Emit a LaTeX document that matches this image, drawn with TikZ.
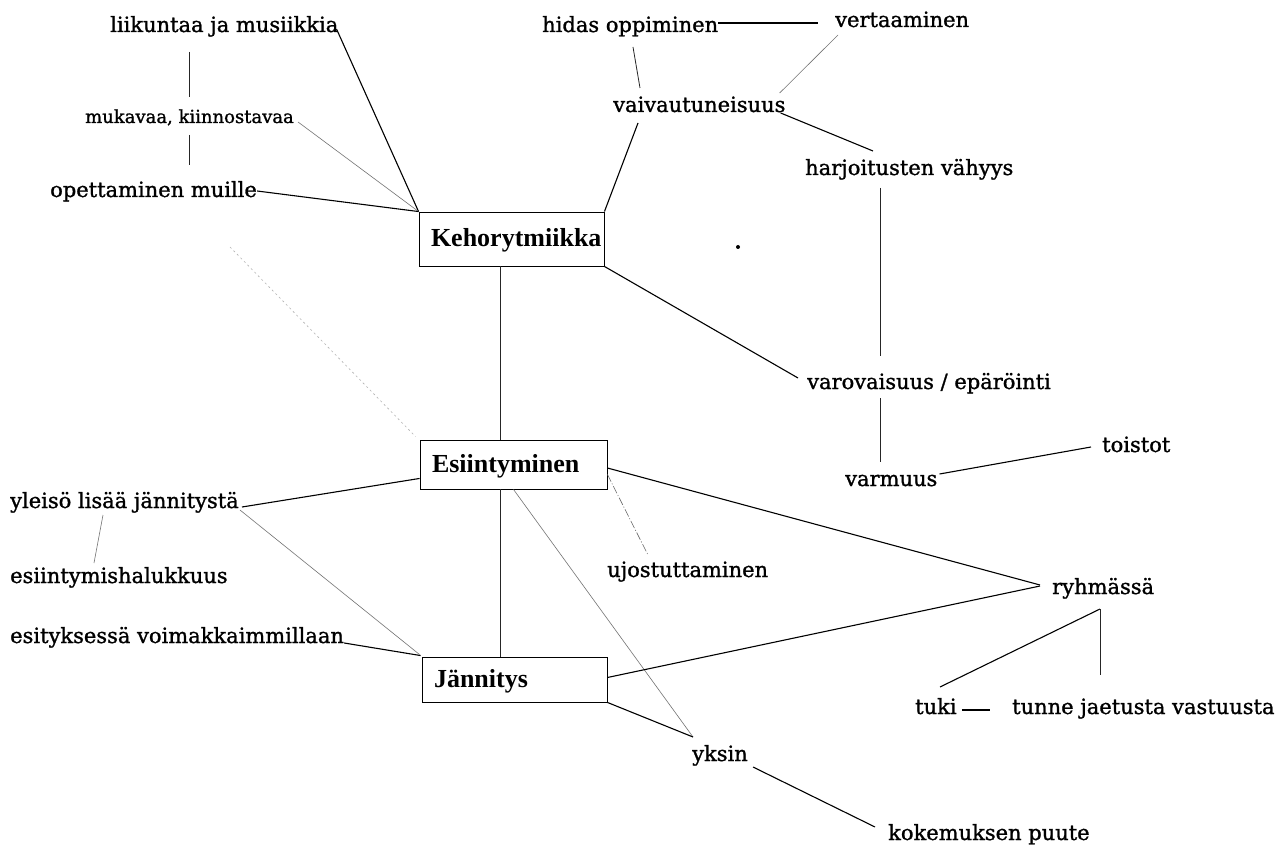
\documentclass[tikz,border=0pt]{standalone}
\usepackage{fontspec}
\setmainfont{DejaVu Serif}[FakeBold=1.2]
\newfontfamily\boxfont{Liberation Serif}
\usetikzlibrary{calc}
\begin{document}
\begin{tikzpicture}[x=1pt,y=-1pt,
  lbl/.style={anchor=base west,inner sep=0pt,font=\fontsize{21}{25}\selectfont},
  smalllbl/.style={anchor=base west,inner sep=0pt,font=\fontsize{18}{22}\selectfont},
  boxnode/.style={draw,line width=0.9pt,align=left,inner xsep=12pt,inner ysep=0pt,
     text height=19pt,text depth=3pt,font=\boxfont\bfseries\fontsize{26}{30}\selectfont},
  link/.style={line width=1.1pt,black},
  vlink/.style={line width=0.8pt,black!85},
  faint/.style={line width=0.6pt,black!55},
  fainter/.style={line width=0.6pt,black!30,dash pattern=on 2pt off 3pt},
  dashdot/.style={line width=0.6pt,black!60,dash pattern=on 8pt off 2pt on 1pt off 2pt}
]
\fill[white] (0,0) rectangle (1277,850);
\useasboundingbox (0,0) rectangle (1277,850);

% boxes
\node[boxnode,minimum width=185pt,minimum height=54pt,text width=161pt] (keho) at (511.5,239) {Kehorytmiikka};
\node[boxnode,minimum width=187pt,minimum height=49pt,text width=163pt] (esi) at (513.5,464.5) {Esiintyminen};
\node[boxnode,minimum width=185pt,minimum height=45pt,text width=161pt] (jan) at (514.5,679.5) {Jännitys};

% labels
\node[lbl] (liik) at (110,32) {liikuntaa ja musiikkia};
\node[smalllbl] (muk) at (85,123) {mukavaa, kiinnostavaa};
\node[lbl] (opet) at (50,197) {opettaminen muille};
\node[lbl] (hidas) at (542,32) {hidas oppiminen};
\node[lbl] (vert) at (835,27) {vertaaminen};
\node[lbl] (vaiv) at (613,112) {vaivautuneisuus};
\node[lbl] (harj) at (805,175) {harjoitusten vähyys};
\node[lbl] (varov) at (807,389) {varovaisuus / epäröinti};
\node[lbl] (varm) at (845,486) {varmuus};
\node[lbl] (toist) at (1102,452) {toistot};
\node[lbl] (yle) at (10,508) {yleisö lisää jännitystä};
\node[lbl] (esih) at (10,583) {esiintymishalukkuus};
\node[lbl] (esity) at (10,643) {esityksessä voimakkaimmillaan};
\node[lbl] (ujo) at (607,577) {ujostuttaminen};
\node[lbl] (ryh) at (1052,594) {ryhmässä};
\node[lbl] (tuki) at (915,714) {tuki};
\node[lbl] (tunne) at (1012,714) {tunne jaetusta vastuusta};
\node[lbl] (yksin) at (692,761) {yksin};
\node[lbl] (kok) at (888,840) {kokemuksen puute};

% stray dot
\fill (738,247) circle (2);

% connectors, upper left
\draw[link] ($(liik.base east)+(-2,-3)$) -- (keho.north west);
\draw[faint] ($(muk.base east)+(4,-1)$) -- (keho.north west);
\draw[link] ($(opet.base east)+(0,-6)$) -- (keho.north west);
\draw[vlink] ($(liik.base west)+(79,20)$) -- ($(muk.base west)+(104,-26)$);
\draw[vlink] ($(muk.base west)+(104,12)$) -- ($(opet.base west)+(139,-32)$);
\draw[fainter] ($(opet.base west)+(180,50)$) -- ($(esi.north west)+(-4,-3)$);

% upper right
\draw[link] ($(hidas.base east)+(0,-9)$) -- ($(vert.base west)+(-17,-4)$);
\draw[vlink] ($(hidas.base west)+(91,15)$) -- ($(vaiv.base west)+(27,-24)$);
\draw[faint] ($(vert.base west)+(3,8)$) -- ($(vaiv.base east)+(-6,-19)$);
\draw[link] ($(vaiv.base east)+(-5,1)$) -- ($(harj.base west)+(68,-24)$);
\draw[link] ($(vaiv.base west)+(25,11)$) -- (keho.north east);
\draw[vlink] ($(harj.base west)+(75,13)$) -- ($(varov.base west)+(73,-33)$);
\draw[vlink] ($(varov.base west)+(73,9)$) -- ($(varm.base west)+(35,-24)$);
\draw[link] (keho.south east) -- ($(varov.base west)+(-9,-11)$);
\draw[link] ($(varm.base east)+(2,-12)$) -- ($(toist.base west)+(-11,-5)$);

% spine
\draw[vlink] ($(keho.south)+(-11.5,0)$) -- ($(esi.north)+(-13.5,0)$);
\draw[vlink] ($(esi.south)+(-13.5,0)$) -- ($(jan.north)+(-14.5,0)$);

% middle / lower left
\draw[link] ($(yle.base east)+(3,-1)$) -- ($(esi.south west)+(0,-11)$);
\draw[faint] ($(yle.base west)+(93,7)$) -- ($(esih.base west)+(84,-20)$);
\draw[faint] ($(yle.base east)+(1,2)$) -- ($(jan.north west)+(-2,-2)$);
\draw[link] (esity.base east) -- ($(jan.north west)+(-1,-1)$);

% right of boxes
\draw[link] ($(esi.east)+(0,3.5)$) -- ($(ryh.base west)+(-12,-9)$);
\draw[dashdot] ($(esi.east)+(0,10)$) -- ($(ujo.base west)+(41,-22)$);
\draw[faint] (esi.south) -- ($(yksin.base west)+(1,-24)$);
\draw[link] ($(jan.east)+(0,-2)$) -- ($(ryh.base west)+(-12,-8)$);
\draw[link] (jan.south east) -- ($(yksin.base west)+(1,-24)$);

% ryhmässä cluster
\draw[link] ($(ryh.base west)+(48,15)$) -- ($(tuki.base west)+(25,-27)$);
\draw[vlink] ($(ryh.base west)+(48,15)$) -- ($(tunne.base west)+(88,-39)$);
\draw[link] ($(tuki.base east)+(5,-4)$) -- ($(tunne.base west)+(-22,-4)$);
\draw[link] ($(yksin.base east)+(5,6)$) -- ($(kok.base west)+(-13,-13)$);
\end{tikzpicture}
\end{document}
